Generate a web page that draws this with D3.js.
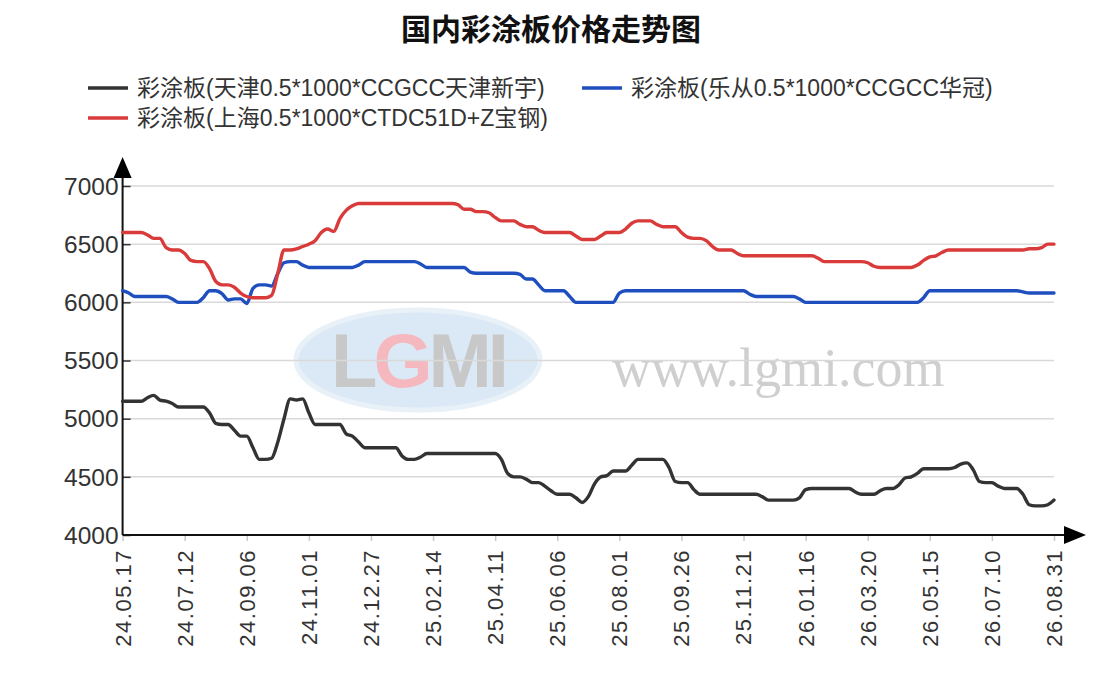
<!DOCTYPE html>
<html>
<head>
<meta charset="utf-8">
<script src="https://cdn.jsdelivr.net/npm/d3@7/dist/d3.min.js"></script>
<style>
  html, body { margin: 0; padding: 0; background: #fff; }
  svg { display: block; }
</style>
</head>
<body>
<svg id="chart" width="1107" height="697"></svg>
<script>
// ---------- DATA ----------
const title = "国内彩涂板价格走势图";
const xTickLabels = ["24.05.17","24.07.12","24.09.06","24.11.01","24.12.27","25.02.14","25.04.11","25.06.06",
  "25.08.01","25.09.26","25.11.21","26.01.16","26.03.20","26.05.15","26.07.10","26.08.31"];
const yTicks = [4000, 4500, 5000, 5500, 6000, 6500, 7000];
const seriesNames = ["彩涂板(天津0.5*1000*CCGCC天津新宇)", "彩涂板(乐从0.5*1000*CCGCC华冠)", "彩涂板(上海0.5*1000*CTDC51D+Z宝钢)"];
const seriesColors = ["#333333", "#1f4fbf", "#d93a3a"];
const pointsPerLabel = 10;

const tianjin = [
  5150,5150,5150,5150,5180,5200,5160,5150,5130,5100,
  5100,5100,5100,5100,5050,4960,4950,4950,4900,4850,
  4850,4750,4650,4650,4660,4800,5000,5170,5160,5170,
  5050,4950,4950,4950,4950,4950,4870,4850,4800,4750,
  4750,4750,4750,4750,4750,4680,4650,4650,4670,4700,
  4700,4700,4700,4700,4700,4700,4700,4700,4700,4700,
  4700,4650,4530,4500,4500,4480,4450,4450,4420,4380,
  4350,4350,4350,4320,4280,4330,4440,4500,4510,4550,
  4550,4550,4600,4650,4650,4650,4650,4650,4580,4460,
  4450,4450,4390,4350,4350,4350,4350,4350,4350,4350,
  4350,4350,4350,4330,4300,4300,4300,4300,4300,4320,
  4390,4400,4400,4400,4400,4400,4400,4400,4370,4350,
  4350,4350,4380,4400,4400,4430,4490,4500,4530,4570,
  4570,4570,4570,4570,4580,4610,4620,4560,4460,4450,
  4450,4420,4400,4400,4400,4350,4260,4250,4250,4260,
  4300
];
const lecong = [
  6100,6080,6050,6050,6050,6050,6050,6050,6030,6000,
  6000,6000,6000,6040,6100,6100,6075,6020,6030,6030,
  5990,6120,6150,6150,6140,6250,6340,6350,6350,6320,
  6300,6300,6300,6300,6300,6300,6300,6300,6320,6350,
  6350,6350,6350,6350,6350,6350,6350,6350,6330,6300,
  6300,6300,6300,6300,6300,6300,6260,6250,6250,6250,
  6250,6250,6250,6250,6240,6200,6200,6150,6100,6100,
  6100,6100,6050,6000,6000,6000,6000,6000,6000,6000,
  6080,6100,6100,6100,6100,6100,6100,6100,6100,6100,
  6100,6100,6100,6100,6100,6100,6100,6100,6100,6100,
  6100,6070,6050,6050,6050,6050,6050,6050,6050,6030,
  6000,6000,6000,6000,6000,6000,6000,6000,6000,6000,
  6000,6000,6000,6000,6000,6000,6000,6000,6000,6040,
  6100,6100,6100,6100,6100,6100,6100,6100,6100,6100,
  6100,6100,6100,6100,6100,6090,6080,6080,6080,6080,
  6080
];
const shanghai = [
  6600,6600,6600,6600,6580,6550,6550,6470,6450,6450,
  6420,6360,6350,6350,6290,6180,6150,6150,6130,6080,
  6050,6040,6040,6040,6060,6250,6450,6450,6460,6480,
  6500,6530,6600,6630,6610,6720,6790,6830,6850,6850,
  6850,6850,6850,6850,6850,6850,6850,6850,6850,6850,
  6850,6850,6850,6850,6840,6800,6800,6780,6780,6770,
  6730,6700,6700,6700,6670,6650,6650,6620,6600,6600,
  6600,6600,6600,6570,6540,6540,6540,6570,6600,6600,
  6600,6630,6680,6700,6700,6700,6670,6650,6650,6650,
  6600,6560,6550,6550,6530,6480,6450,6450,6450,6420,
  6400,6400,6400,6400,6400,6400,6400,6400,6400,6400,
  6400,6400,6380,6350,6350,6350,6350,6350,6350,6350,
  6340,6310,6300,6300,6300,6300,6300,6300,6320,6360,
  6390,6400,6430,6450,6450,6450,6450,6450,6450,6450,
  6450,6450,6450,6450,6450,6450,6460,6460,6470,6500,
  6500
];
const allSeries = [tianjin, lecong, shanghai];

// ---------- LAYOUT ----------
const svg = d3.select("#chart");
const m = { left: 122.6, right: 1054, top: 186, bottom: 535 };
const fontLatin = "'Liberation Sans', Arial, 'Noto Sans CJK SC', sans-serif";
const fontCJK = "'Liberation Sans', 'Noto Sans CJK SC', sans-serif";

const nPts = tianjin.length;
const x = d3.scaleLinear().domain([0, nPts - 1]).range([m.left, m.right]);
const y = d3.scaleLinear().domain([4000, 7000]).range([m.bottom, m.top]);

// watermark
const wm = svg.append("g").attr("opacity", 0.6);
wm.append("ellipse").attr("cx", 418).attr("cy", 360).attr("rx", 122).attr("ry", 50)
  .attr("fill", "#c4daf0").attr("stroke", "#dce8f5").attr("stroke-width", 5);
wm.append("text").attr("x", 418).attr("y", 387).attr("text-anchor", "middle")
  .attr("font-family", "'Liberation Sans', sans-serif").attr("font-weight", "bold")
  .attr("font-size", 76).attr("fill", "#a4a4a4").attr("letter-spacing", -4)
  .html('L<tspan fill="#f08a96">G</tspan>MI');
wm.append("text").attr("x", 612).attr("y", 386)
  .attr("font-family", "'Liberation Serif', 'DejaVu Serif', serif")
  .attr("font-size", 54).attr("fill", "#b0b0b0").text("www.lgmi.com");

// grid
svg.append("g").selectAll("line").data(yTicks.slice(1)).join("line")
  .attr("x1", m.left).attr("x2", m.right)
  .attr("y1", d => y(d)).attr("y2", d => y(d))
  .attr("stroke", "#d9d9d9").attr("stroke-width", 1.5);

// y axis
const yAxis = svg.append("g").attr("transform", `translate(${m.left},0)`)
  .call(d3.axisRight(y).tickValues(yTicks).tickSize(8).tickFormat(""));
yAxis.select(".domain").remove();
yAxis.selectAll(".tick line").attr("stroke", "#333").attr("stroke-width", 1.5);
svg.append("g").selectAll("text").data(yTicks).join("text")
  .attr("x", m.left - 4).attr("y", d => y(d)).attr("dy", "0.36em")
  .attr("text-anchor", "end").attr("font-family", fontLatin).attr("font-size", 24.5)
  .attr("fill", "#333").text(d => d);

// x axis
const tickIdx = xTickLabels.map((_, i) => i * pointsPerLabel);
const xAxis = svg.append("g").attr("transform", `translate(0,${m.bottom})`)
  .call(d3.axisBottom(x).tickValues(tickIdx).tickSize(6).tickFormat(""));
xAxis.select(".domain").remove();
xAxis.selectAll(".tick line").attr("stroke", "#c8c8c8").attr("stroke-width", 1.5);
svg.append("g").selectAll("text").data(xTickLabels).join("text")
  .attr("transform", (d, i) => `translate(${x(tickIdx[i])},${m.bottom + 14}) rotate(-90)`)
  .attr("text-anchor", "end").attr("dy", "0.36em")
  .attr("font-family", fontLatin).attr("font-size", 22).attr("letter-spacing", 1.5)
  .attr("fill", "#333").text(d => d);

// axis lines + arrows
svg.append("line").attr("x1", m.left).attr("x2", m.left).attr("y1", m.bottom).attr("y2", 172)
  .attr("stroke", "#111").attr("stroke-width", 2);
svg.append("path").attr("d", `M${m.left - 9},178 L${m.left},157 L${m.left + 9},178 Z`).attr("fill", "#000");
svg.append("line").attr("x1", m.left).attr("x2", 1070).attr("y1", m.bottom).attr("y2", m.bottom)
  .attr("stroke", "#111").attr("stroke-width", 2);
svg.append("path").attr("d", `M1064,${m.bottom - 9} L1086,${m.bottom} L1064,${m.bottom + 9} Z`).attr("fill", "#000");

// lines
const line = d3.line().x((d, i) => x(i)).y(d => y(d)).curve(d3.curveMonotoneX);
svg.append("g").selectAll("path").data(allSeries).join("path")
  .attr("d", line).attr("fill", "none")
  .attr("stroke", (d, i) => seriesColors[i]).attr("stroke-width", 3.4)
  .attr("stroke-linejoin", "round").attr("stroke-linecap", "round");

// title
svg.append("text").attr("x", 551).attr("y", 40).attr("text-anchor", "middle")
  .attr("font-family", "'Noto Sans CJK SC', sans-serif").attr("font-weight", "bold")
  .attr("font-size", 30).attr("fill", "#111").text(title);

// legend
const legendPos = [[88, 88], [582, 88], [88, 118]];
const lg = svg.append("g").selectAll("g").data(seriesNames).join("g")
  .attr("transform", (d, i) => `translate(${legendPos[i][0]},${legendPos[i][1]})`);
lg.append("line").attr("x1", 0).attr("x2", 40).attr("y1", 0).attr("y2", 0)
  .attr("stroke", (d, i) => seriesColors[i]).attr("stroke-width", 3.4);
lg.append("text").attr("x", 49).attr("dy", "0.36em")
  .attr("font-family", fontCJK).attr("font-size", 23).attr("fill", "#333").text(d => d);
</script>
</body>
</html>
